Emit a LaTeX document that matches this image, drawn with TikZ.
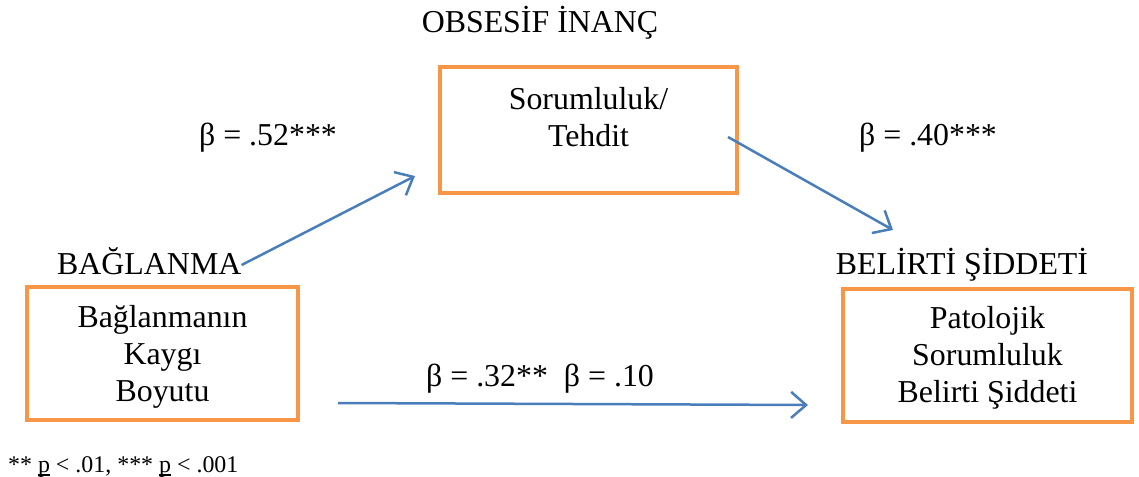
\documentclass[tikz,border=0pt]{standalone}
\usepackage{fontspec}
\setmainfont{Liberation Serif}
\usetikzlibrary{arrows.meta}
\definecolor{boxorange}{HTML}{F79646}
\definecolor{arrowblue}{HTML}{4A7EBB}
\newcommand\ulp{\setbox0\hbox{p}\rlap{\rule[-3.5bp]{\wd0}{1.8bp}}p}
\begin{document}
\begin{tikzpicture}[x=1bp,y=-1bp,
  box/.style={draw=boxorange, line width=4bp, inner sep=0pt},
  lab/.style={font=\fontsize{32}{37}\selectfont, inner sep=0pt},
  note/.style={font=\fontsize{24}{28}\selectfont, inner sep=0pt},
  conn/.style={draw=arrowblue, line width=2.5bp, -{Straight Barb[length=15bp,width=26bp,line width=2.5bp]}}]
\useasboundingbox (0,0) rectangle (1139,477);
% boxes
\node[box, minimum width=271bp, minimum height=133bp] (att) at (162.5,353.5) {};
\node[box, minimum width=297bp, minimum height=126bp] (obs) at (588.5,130) {};
\node[box, minimum width=289bp, minimum height=133bp] (sym) at (987.5,355.5) {};
% box texts
\node[lab, align=center] (attT) at (162.5,357) {Bağlanmanın\\Kaygı\\Boyutu};
\node[lab, align=center] (obsT) at (588.5,117) {Sorumluluk/\\Tehdit};
\node[lab, align=center] (symT) at (987.5,358) {Patolojik\\Sorumluluk\\Belirti Şiddeti};
% headings
\node[lab, anchor=base] (obsH) at (540,33) {OBSESİF İNANÇ};
\node[lab, anchor=base west] (attH) at (57,275) {BAĞLANMA};
\node[lab, anchor=base] (symH) at (962,275) {BELİRTİ ŞİDDETİ};
% coefficients
\node[lab, anchor=base] (b1) at (268,146) {β = .52***};
\node[lab, anchor=base] (b2) at (928,146) {β = .40***};
\node[lab, anchor=base] (b3) at (540,387) {β = .32**\ \ β = .10};
% footnote
\node[note, anchor=base west] (fn) at (8,472) {** \ulp{} < .01, *** \ulp{} < .001};
% connector ends
\coordinate (a1s) at (attH.east |- 0,265);
\coordinate (a1e) at (415,176);
\coordinate (a2s) at (728,137);
\coordinate (a2e) at (893,230);
\coordinate (a3s) at (338,403);
\coordinate (a3e) at (808,405);
\draw[conn] (a1s) -- (a1e);
\draw[conn] (a2s) -- (a2e);
\draw[conn] (a3s) -- (a3e);
\end{tikzpicture}
\end{document}
